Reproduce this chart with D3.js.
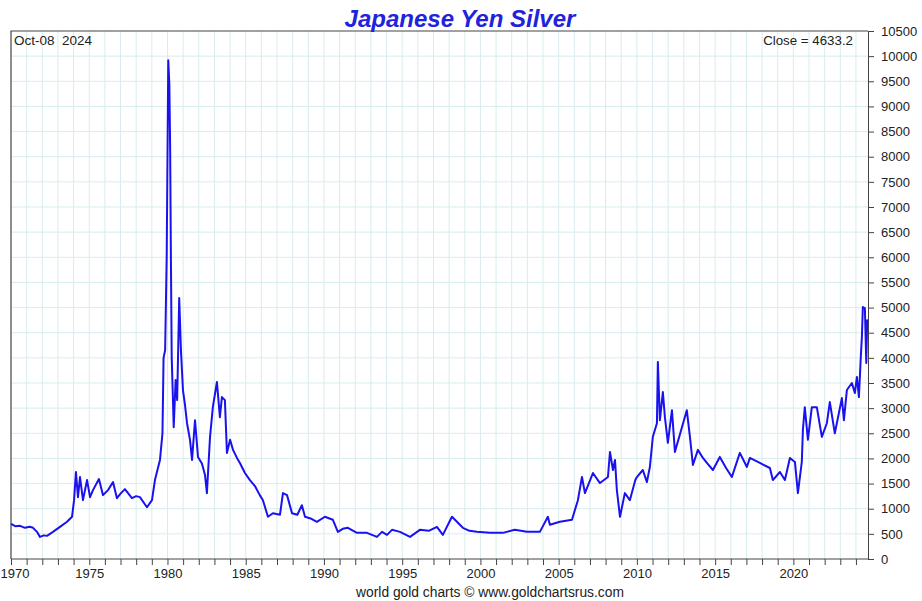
<!DOCTYPE html>
<html>
<head>
<meta charset="utf-8">
<script src="https://cdn.jsdelivr.net/npm/d3@7"></script>
<style>
  body { margin: 0; background: #fff; }
  svg { display: block; font-family: 'Liberation Sans', Arial, sans-serif; }
</style>
</head>
<body>
<svg id="chart" width="922" height="601"></svg>
<script>
// readings: decimal year and yen price per ounce
const years = [
  1970.0, 1970.3, 1970.58, 1970.89, 1971.2, 1971.41, 1971.66, 1971.85, 1972.1, 1972.3, 1972.68,
  1973.13, 1973.58, 1973.9, 1974.03, 1974.15, 1974.28, 1974.41, 1974.6, 1974.86, 1975.05,
  1975.24, 1975.62, 1975.88, 1976.2, 1976.52, 1976.77, 1977.0, 1977.28, 1977.73, 1978.0,
  1978.24, 1978.69, 1979.01, 1979.2, 1979.52, 1979.68, 1979.75, 1979.85, 1979.95, 1980.05,
  1980.12, 1980.17, 1980.22, 1980.27, 1980.4, 1980.52, 1980.62, 1980.75, 1980.86, 1980.99,
  1981.12, 1981.25, 1981.44, 1981.57, 1981.76, 1981.95, 1982.2, 1982.4, 1982.52, 1982.72,
  1982.9, 1983.16, 1983.35, 1983.48, 1983.67, 1983.8, 1984.0, 1984.19, 1984.44, 1984.63,
  1984.95, 1985.27, 1985.59, 1985.9, 1986.1, 1986.42, 1986.74, 1987.19, 1987.38, 1987.64,
  1987.96, 1988.3, 1988.59, 1988.79, 1989.2, 1989.55, 1990.06, 1990.57, 1990.89, 1991.2,
  1991.53, 1992.11, 1992.75, 1993.39, 1993.71, 1994.03, 1994.35, 1994.86, 1995.5, 1996.13,
  1996.7, 1997.22, 1997.6, 1998.18, 1998.5, 1998.88, 1999.3, 1999.78, 2000.61, 2001.44,
  2002.2, 2002.97, 2003.8, 2004.31, 2004.44, 2005.08, 2005.85, 2006.23, 2006.49, 2006.68,
  2007.19, 2007.64, 2008.15, 2008.28, 2008.47, 2008.6, 2008.72, 2008.92, 2009.23, 2009.55,
  2009.9, 2010.0, 2010.38, 2010.64, 2010.83, 2011.02, 2011.28, 2011.34, 2011.47, 2011.66,
  2011.79, 2011.98, 2012.24, 2012.43, 2012.88, 2013.19, 2013.39, 2013.58, 2013.9, 2014.22,
  2014.5, 2014.86, 2015.3, 2015.7, 2016.07, 2016.58, 2017.03, 2017.22, 2017.86, 2018.5,
  2018.69, 2019.14, 2019.46, 2019.78, 2020.1, 2020.29, 2020.54, 2020.61, 2020.73, 2020.93,
  2021.18, 2021.5, 2021.82, 2022.14, 2022.33, 2022.65, 2023.1, 2023.23, 2023.42, 2023.74,
  2023.93, 2024.06, 2024.19, 2024.31, 2024.38, 2024.44, 2024.57, 2024.66, 2024.72, 2024.77
]
const prices = [
  700, 650, 660, 620, 640, 620, 540, 440, 470, 460, 540,
  640, 740, 840, 1170, 1730, 1230, 1630, 1170, 1570, 1230,
  1370, 1590, 1270, 1370, 1530, 1210, 1300, 1390, 1210, 1250,
  1230, 1030, 1170, 1570, 1970, 2500, 4000, 4150, 6000, 9920,
  9430, 8200, 5950, 4020, 2620, 3560, 3160, 5190, 4150, 3360,
  3060, 2700, 2370, 1970, 2760, 2030, 1900, 1670, 1310, 2430,
  3020, 3520, 2820, 3220, 3160, 2110, 2370, 2170, 2010, 1910,
  1710, 1570, 1450, 1270, 1170, 840, 910, 880, 1310, 1270,
  910, 880, 1070, 840, 800, 740, 840, 780, 540, 600,
  620, 520, 520, 440, 540, 480, 580, 540, 440, 580,
  560, 640, 480, 840, 740, 620, 560, 540, 520, 520,
  580, 540, 540, 840, 680, 740, 780, 1170, 1630, 1310,
  1710, 1510, 1630, 2130, 1770, 1970, 1370, 840, 1310, 1170,
  1570, 1630, 1770, 1530, 1830, 2430, 2700, 3920, 2760, 3320,
  2820, 2310, 2960, 2130, 2620, 2960, 2430, 1870, 2170, 2010,
  1900, 1770, 2030, 1810, 1630, 2110, 1830, 2010, 1910, 1810,
  1570, 1730, 1570, 2010, 1930, 1310, 1930, 2570, 3020, 2370,
  3020, 3020, 2430, 2700, 3120, 2500, 3200, 2760, 3360, 3500,
  3300, 3620, 3220, 4020, 4420, 5010, 4990, 3900, 4750, 4633
]
const yTicks = d3.range(0, 10501, 500)
const xLabelYears = [1970, 1975, 1980, 1985, 1990, 1995, 2000, 2005, 2010, 2015, 2020]

const W = 922
const H = 601
const margin = { top: 31, right: 54, bottom: 42, left: 11 }
const innerW = W - margin.left - margin.right
const innerH = H - margin.top - margin.bottom

const svg = d3.select('#chart')
const g = svg.append('g').attr('transform', `translate(${margin.left},${margin.top})`)

const x = d3.scaleLinear().domain([1970, 2024.77]).range([0, innerW])
const y = d3.scaleLinear().domain([0, 10500]).range([innerH, 0])

const gridColor = '#d9ecef'

// grid
g.append('g')
  .selectAll('line')
  .data(d3.range(1971, 2025))
  .join('line')
  .attr('x1', (d) => x(d))
  .attr('x2', (d) => x(d))
  .attr('y1', 0)
  .attr('y2', innerH)
  .attr('stroke', gridColor)
g.append('g')
  .selectAll('line')
  .data(yTicks.slice(1, -1))
  .join('line')
  .attr('x1', 0)
  .attr('x2', innerW)
  .attr('y1', (d) => y(d))
  .attr('y2', (d) => y(d))
  .attr('stroke', gridColor)

// frame top and left
g.append('path')
  .attr('d', `M0,${innerH}V0H${innerW}`)
  .attr('fill', 'none')
  .attr('stroke', '#444')
  .attr('stroke-width', 1.2)

// series
const line = d3.line()
  .x((d, i) => x(years[i]))
  .y((d) => y(d))
g.append('path')
  .datum(prices)
  .attr('d', line)
  .attr('fill', 'none')
  .attr('stroke', '#1a12ee')
  .attr('stroke-width', 2)
  .attr('stroke-linejoin', 'round')

// right axis
const yAxis = g.append('g')
  .attr('transform', `translate(${innerW},0)`)
  .call(d3.axisRight(y).tickValues(yTicks).tickSize(6).tickPadding(7).tickFormat(d3.format('d')))
yAxis.selectAll('text').attr('font-size', 13).attr('fill', '#222').attr('font-family', null)
yAxis.selectAll('line, path').attr('stroke', '#444')

// bottom axis: a tick every year, labels every five
const xAxis = g.append('g')
  .attr('transform', `translate(0,${innerH})`)
  .call(d3.axisBottom(x)
    .tickValues(d3.range(1970, 2025))
    .tickSize(6)
    .tickPadding(4)
    .tickFormat((d) => (xLabelYears.includes(d) ? d : '')))
xAxis.select('.domain').attr('d', `M0,0H${innerW}`)
xAxis.selectAll('text').attr('font-size', 13).attr('fill', '#222').attr('font-family', null)
xAxis.selectAll('line, path').attr('stroke', '#444')
// first label sits against the page edge
xAxis.selectAll('.tick')
  .filter((d) => d === 1970)
  .select('text')
  .attr('text-anchor', 'start')
  .attr('x', -margin.left)

// texts
svg.append('text')
  .attr('x', 460)
  .attr('y', 27)
  .attr('text-anchor', 'middle')
  .attr('font-size', 24)
  .attr('font-weight', 'bold')
  .attr('font-style', 'italic')
  .attr('fill', '#2222dd')
  .text('Japanese Yen Silver')

svg.append('text')
  .attr('x', 14)
  .attr('y', 45)
  .attr('font-size', 13.5)
  .attr('fill', '#222')
  .attr('xml:space', 'preserve')
  .text('Oct-08  2024')

svg.append('text')
  .attr('x', 853)
  .attr('y', 45)
  .attr('text-anchor', 'end')
  .attr('font-size', 13.3)
  .attr('fill', '#222')
  .text('Close = 4633.2')

svg.append('text')
  .attr('x', 490)
  .attr('y', 597)
  .attr('text-anchor', 'middle')
  .attr('font-size', 13.8)
  .attr('fill', '#222')
  .text('world gold charts \u00a9 www.goldchartsrus.com')
</script>
</body>
</html>
